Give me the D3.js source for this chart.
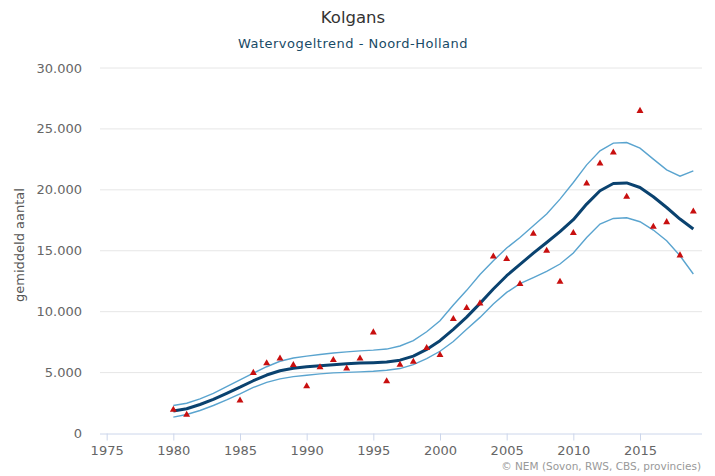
<!DOCTYPE html>
<html>
<head>
<meta charset="utf-8">
<script src="https://cdn.jsdelivr.net/npm/d3@7"></script>
<style>
  body { margin: 0; background: #fff; }
  svg { font-family: "DejaVu Sans", sans-serif; }
</style>
</head>
<body>
<svg id="chart"></svg>
<script>
// trend years and model values
const years = d3.range(1980, 2020);

const trend = [
  1850, 2030, 2380, 2800, 3300, 3800, 4330, 4800, 5150, 5350,
  5480, 5560, 5650, 5720, 5780, 5810, 5860, 6020, 6350, 6900,
  7620, 8550, 9550, 10680, 11860, 12950, 13880, 14800, 15680, 16570,
  17550, 18830, 19920, 20520, 20570, 20190, 19430, 18550, 17600, 16780,
];

const upper = [
  2300, 2480, 2840, 3300, 3850, 4400, 4950, 5480, 5930, 6200,
  6350, 6480, 6610, 6700, 6780, 6840, 6930, 7180, 7620, 8350,
  9250, 10550, 11750, 13050, 14180, 15220, 16090, 17050, 18010, 19240,
  20600, 22050, 23200, 23830, 23880, 23420, 22520, 21640, 21120, 21560,
];

const lower = [
  1340, 1560, 1890, 2300, 2760, 3250, 3780, 4200, 4480, 4670,
  4780, 4890, 4980, 5020, 5060, 5110, 5190, 5330, 5650, 6150,
  6750, 7550, 8550, 9530, 10630, 11580, 12300, 12800, 13300, 13910,
  14810, 16090, 17190, 17650, 17710, 17380, 16700, 15820, 14590, 13090,
];

// counted averages (red triangles)
const countYears = [
  1980, 1981, 1985, 1986, 1987, 1988, 1989, 1990, 1991, 1992,
  1993, 1994, 1995, 1996, 1997, 1998, 1999, 2000, 2001, 2002,
  2003, 2004, 2005, 2006, 2007, 2008, 2009, 2010, 2011, 2012,
  2013, 2014, 2015, 2016, 2017, 2018, 2019,
];
const counts = [
  1950, 1530, 2700, 4975, 5760, 6150, 5630, 3880, 5440, 6040,
  5330, 6150, 8300, 4290, 5650, 5880, 7020, 6450, 9400, 10300,
  10680, 14530, 14320, 12270, 16390, 15000, 12460, 16450, 20520, 22160,
  23060, 19430, 26480, 16970, 17350, 14620, 18220,
];

const xTicks = [1975, 1980, 1985, 1990, 1995, 2000, 2005, 2010, 2015];
const yTicks = [0, 5000, 10000, 15000, 20000, 25000, 30000];

const size = { width: 715, height: 476 };
const margin = { top: 68, bottom: 42.5, left: 100, right: 13 };

const color = {
  trend: "#0a426f",
  band: "#5aa4cf",
  count: "#c80f0f",
};

const svg = d3
  .select("#chart")
  .attr("width", size.width)
  .attr("height", size.height);

const x = d3
  .scaleLinear()
  .domain([1974.5, 2019.65])
  .range([margin.left, size.width - margin.right]);

const y = d3
  .scaleLinear()
  .domain([0, 30000])
  .range([size.height - margin.bottom, margin.top]);

const fmt = (v) => d3.format(",")(v).replace(/,/g, ".");

// horizontal grid + y labels
const grid = svg.append("g");
yTicks.forEach((v) => {
  if (v > 0) {
    grid
      .append("line")
      .attr("x1", margin.left)
      .attr("x2", size.width - margin.right)
      .attr("y1", y(v))
      .attr("y2", y(v))
      .attr("stroke", "#e6e6e6")
      .attr("stroke-width", 1);
  }
  grid
    .append("text")
    .text(fmt(v))
    .attr("x", 82)
    .attr("y", y(v) + 4.5)
    .attr("text-anchor", "end")
    .attr("fill", "#666")
    .style("font-size", "13px");
});

// x axis
const xAxis = svg
  .append("g")
  .attr("transform", `translate(0, ${y(0)})`)
  .call(d3.axisBottom(x).tickValues(xTicks).tickFormat(d3.format("d")).tickSize(7).tickPadding(5));

xAxis.select(".domain").attr("stroke", "#ccd6eb").attr("d", `M${margin.left},0.5H${size.width - margin.right}`);
xAxis.selectAll(".tick line").attr("stroke", "#ccd6eb");
xAxis
  .selectAll(".tick text")
  .attr("fill", "#666")
  .style("font-size", "13px")
  .style("font-family", "DejaVu Sans, sans-serif");

// band lines and trend
const line = d3
  .line()
  .x((d, i) => x(years[i]))
  .y((d) => y(d));

svg
  .append("path")
  .datum(upper)
  .attr("d", line)
  .attr("fill", "none")
  .attr("stroke", color.band)
  .attr("stroke-width", 1.4);

svg
  .append("path")
  .datum(lower)
  .attr("d", line)
  .attr("fill", "none")
  .attr("stroke", color.band)
  .attr("stroke-width", 1.4);

svg
  .append("path")
  .datum(trend)
  .attr("d", line)
  .attr("fill", "none")
  .attr("stroke", color.trend)
  .attr("stroke-width", 3)
  .attr("stroke-linejoin", "round");

// counted values
const tri = d3.symbol().type(d3.symbolTriangle).size(21);
svg
  .append("g")
  .selectAll("path")
  .data(counts)
  .join("path")
  .attr("d", tri)
  .attr("transform", (d, i) => `translate(${x(countYears[i])}, ${y(d)})`)
  .attr("fill", color.count);

// titles
svg
  .append("text")
  .text("Kolgans")
  .attr("x", 353)
  .attr("y", 23)
  .attr("text-anchor", "middle")
  .attr("fill", "#333")
  .style("font-size", "16.5px");

svg
  .append("text")
  .text("Watervogeltrend - Noord-Holland")
  .attr("x", 353)
  .attr("y", 48)
  .attr("text-anchor", "middle")
  .attr("fill", "#184a66")
  .style("font-size", "13px")
  .style("letter-spacing", "0.5px");

svg
  .append("text")
  .text("gemiddeld aantal")
  .attr("transform", `translate(24, 245) rotate(-90)`)
  .attr("text-anchor", "middle")
  .attr("fill", "#555")
  .style("font-size", "13px");

svg
  .append("text")
  .text("© NEM (Sovon, RWS, CBS, provincies)")
  .attr("x", 701)
  .attr("y", 470)
  .attr("text-anchor", "end")
  .attr("fill", "#999")
  .style("font-size", "10.5px");
</script>
</body>
</html>
